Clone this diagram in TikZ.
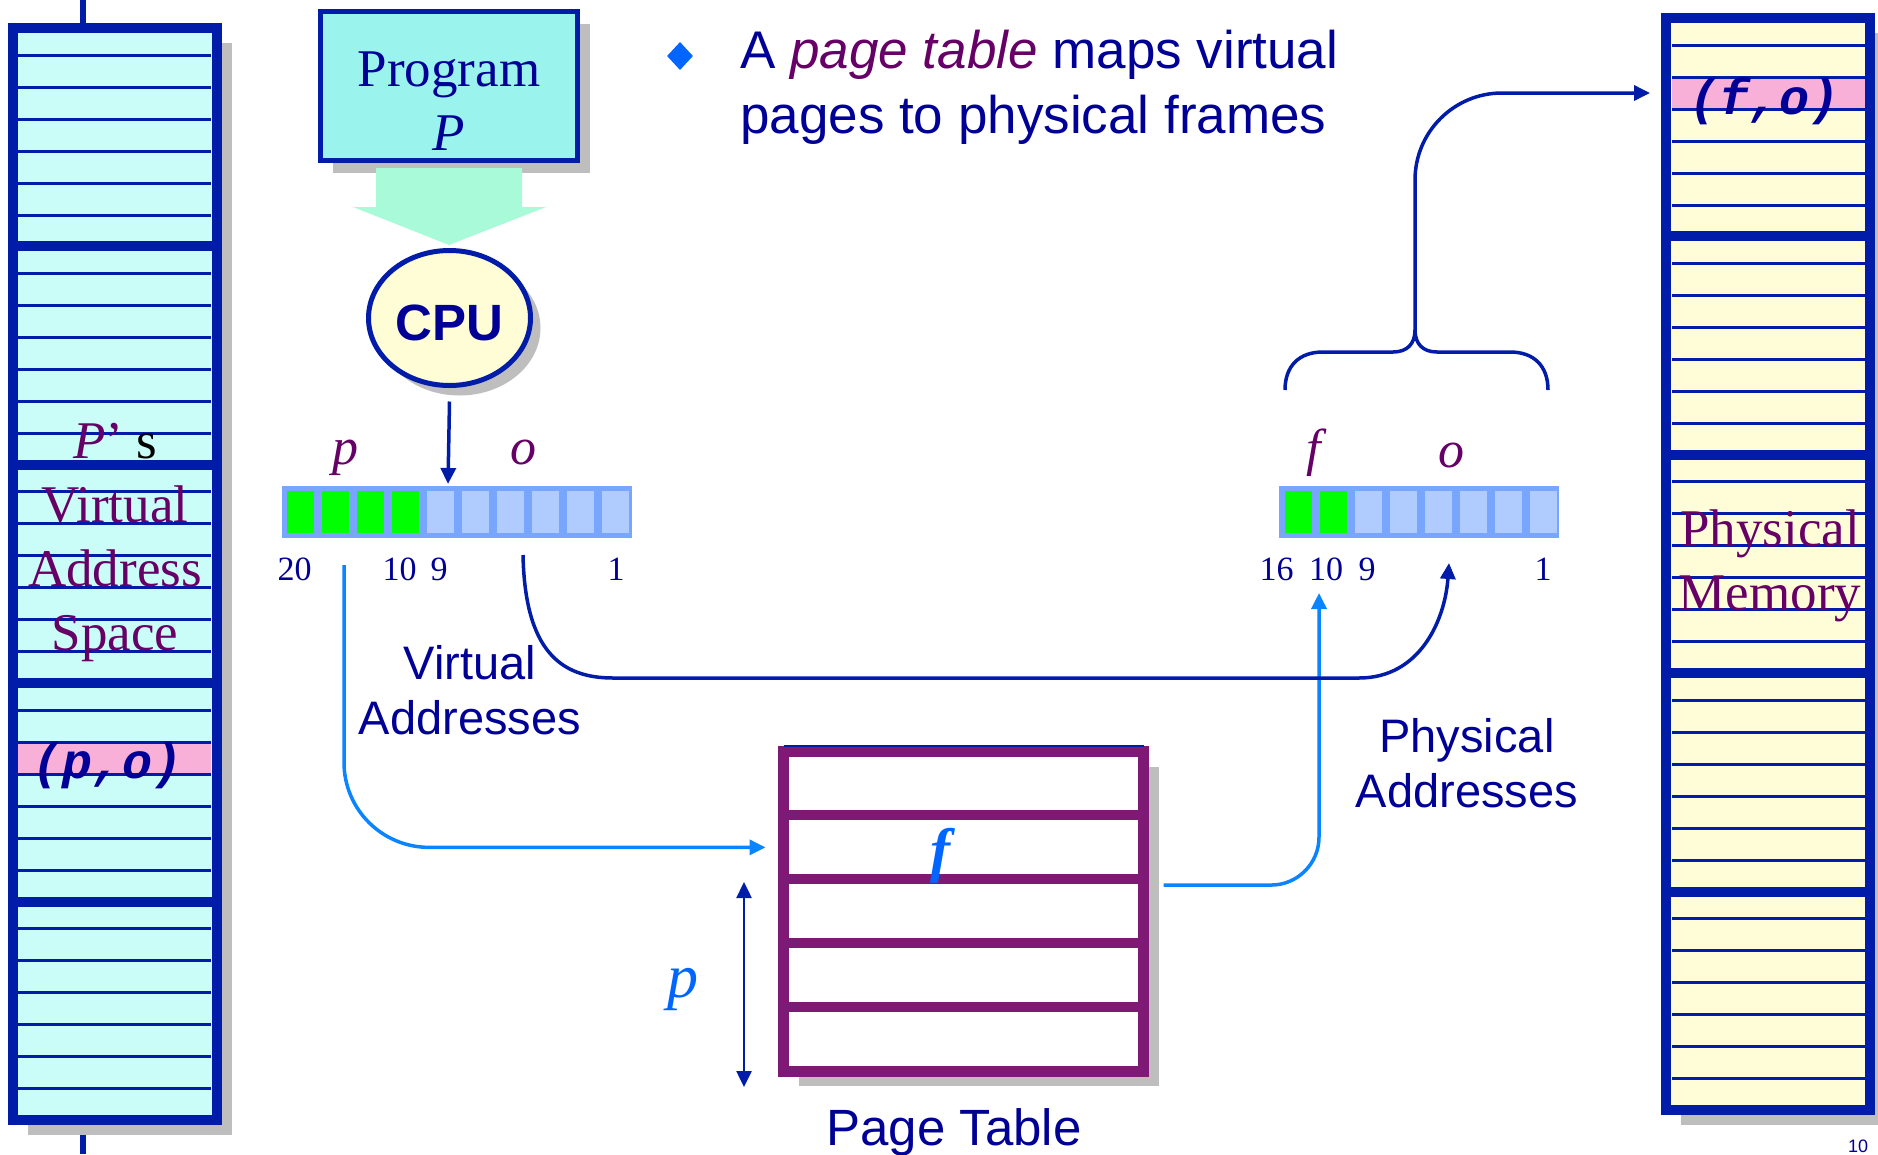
\documentclass[tikz,border=0pt]{standalone}
\usepackage{fontspec}
\setmainfont{Liberation Serif}
\setsansfont{Liberation Sans}
\setmonofont{Liberation Mono}
\usepackage{xcolor}
\usetikzlibrary{arrows.meta,calc,positioning,shapes.geometric,shadows}
\definecolor{navy}{RGB}{0,28,168}
\definecolor{textblue}{RGB}{0,0,150}
\definecolor{plum}{RGB}{102,0,102}
\definecolor{ptpurple}{RGB}{126,26,118}
\definecolor{vasfill}{RGB}{202,252,248}
\definecolor{pmfill}{RGB}{255,253,216}
\definecolor{rowpink}{RGB}{248,176,216}
\definecolor{progfill}{RGB}{155,243,238}
\definecolor{mint}{RGB}{168,250,216}
\definecolor{cpufill}{RGB}{255,253,214}
\definecolor{barblue}{RGB}{120,166,255}
\definecolor{bitlight}{RGB}{176,204,255}
\definecolor{bitgreen}{RGB}{0,255,0}
\definecolor{skyline}{RGB}{10,132,255}
\definecolor{brightblue}{RGB}{0,102,255}
\definecolor{shadowgray}{RGB}{190,190,190}
\newcommand{\pxfont}[2]{\fontsize{#1}{#2}\selectfont}

\begin{document}
\begin{tikzpicture}[x=1pt,y=-1pt,>={Triangle[length=16pt,width=15pt]},
  greyshadow/.style={general shadow={fill=shadowgray,shadow xshift=#1,shadow yshift=-#1}},
  memcol/.style={draw=navy,line width=10pt,inner sep=0pt,outer sep=0pt,minimum width=203.5pt,minimum height=1092pt,greyshadow=15pt},
  rowline/.style={navy,line width=3pt},
  secline/.style={navy,line width=10pt},
  serifbig/.style={font=\pxfont{53}{64},text=plum,align=center,inner sep=0pt},
  sansbig/.style={font=\sffamily\pxfont{47}{55},text=textblue,align=center,inner sep=0pt},
  bitcell/.style={fill=bitlight,minimum width=27pt,minimum height=42pt,inner sep=0pt,outer sep=0pt},
  pbit/.style={bitcell,fill=bitgreen},
  bitbar/.style={fill=barblue,minimum height=52pt,inner sep=0pt,outer sep=0pt},
  bitnum/.style={font=\pxfont{34}{40},text=textblue,inner sep=0pt,anchor=base},
  fieldlbl/.style={font=\itshape\pxfont{52}{60},text=plum,inner sep=0pt,anchor=base},
  monolbl/.style={font=\ttfamily\bfseries\itshape\pxfont{50}{54},text=textblue,inner sep=0pt,anchor=base},
  navyarrow/.style={->,navy,line width=3.5pt},
  skyarrow/.style={->,skyline,line width=3.5pt}]
\useasboundingbox (0,0) rectangle (1878,1154);

% virtual address space of P
\draw[navy,line width=6pt] (83,0) -- (83,1154);
\node[memcol,fill=vasfill] (vas) at (114.75,574) {};
\fill[rowpink] (18,742) rectangle (211,774);
\foreach \s in {0,...,4}{
  \foreach \j in {1,...,6}
    \draw[rowline] (18,{28+218.4*\s+32*\j-5}) -- (211,{28+218.4*\s+32*\j-5});
}
\foreach \s in {1,...,4}
  \draw[secline] (13,{28+218.4*\s}) -- (216.5,{28+218.4*\s});
\node[serifbig] (vastext) at (115,542.5) {\textit{P}' {\color{black}s}\\Virtual\\Address\\Space};
\node[monolbl] (po) at (108,778) {(p,o)};

% physical memory
\node[memcol,fill=pmfill] (pm) at (1768,563.5) {};
\fill[rowpink] (1671.5,77) rectangle (1864.5,109);
\foreach \s in {0,...,4}{
  \foreach \j in {1,...,6}
    \draw[rowline] (1671.5,{18+218.4*\s+32*\j-5}) -- (1864.5,{18+218.4*\s+32*\j-5});
}
\foreach \s in {1,...,4}
  \draw[secline] (1666.5,{18+218.4*\s}) -- (1869.5,{18+218.4*\s});
\node[serifbig] (pmtext) at (1770,566) {Physical\\Memory};
\node[monolbl] (fo) at (1764,114) {(f,o)};

% program and CPU
\node[draw=navy,line width=5pt,fill=progfill,minimum width=257pt,minimum height=149pt,outer sep=0pt,greyshadow=12pt] (prog) at (449,86) {};
\node[serifbig,text=textblue] (progtext) at (449,101) {Program\\\textit{P}};
\fill[mint,shift={(prog.south)}] (-73,7.5) -- (73,7.5) -- (73,46.5) -- (97,46.5) -- (0,84.5) -- (-96,46.5) -- (-73,46.5) -- cycle;
\node[ellipse,draw=navy,line width=5pt,fill=cpufill,minimum width=162pt,minimum height=135pt,inner sep=0pt,outer sep=0pt,greyshadow=10pt,font=\sffamily\bfseries\pxfont{51}{60},text=textblue,text height=46pt] (cpu) at (449.5,318) {CPU};

% virtual address bits
\node[bitbar,minimum width=350pt] (vbar) at (457,511.5) {};
\foreach \i in {1,...,10}{
  \ifnum\i<5 \node[pbit] (v\i) at ({265.5+35*\i},511.5) {};
  \else \node[bitcell] (v\i) at ({265.5+35*\i},511.5) {}; \fi
}
\node[fieldlbl] (vp) at (345.5,464) {p};
\node[fieldlbl] (vo) at (523.5,464) {o};
\node[bitnum] (v20) at (294.5,580) {20};
\node[bitnum] (v10) at (399.5,580) {10};
\node[bitnum] (v9) at (439,580) {9};
\node[bitnum] (v1n) at (616,580) {1};
\coordinate (vin) at (448,484);
\draw[navyarrow] ([yshift=-16pt]cpu.south) -- (vin);
\node[sansbig] (vaddr) at (470,690.5) {Virtual\\Addresses};

% physical address bits
\node[bitbar,minimum width=280pt] (pbar) at (1419,511.5) {};
\foreach \i in {1,...,8}{
  \ifnum\i<3 \node[pbit] (ph\i) at ({1263+35*\i},511.5) {};
  \else \node[bitcell] (ph\i) at ({1263+35*\i},511.5) {}; \fi
}
\node[fieldlbl] (pf) at (1314,465) {f};
\node[fieldlbl] (pho) at (1451,467) {o};
\node[bitnum] (p16) at (1276.5,580) {16};
\node[bitnum] (p10) at (1326,580) {10};
\node[bitnum] (p9) at (1367,580) {9};
\node[bitnum] (p1n) at (1543,580) {1};
\node[sansbig] (paddr) at (1467,763) {Physical\\Addresses};

% page table
\node[draw=ptpurple,line width=11pt,fill=white,minimum width=360pt,minimum height=319.5pt,inner sep=0pt,outer sep=0pt,greyshadow=15pt] (pt) at (963.5,911.25) {};
\foreach \k in {1,...,4}
  \draw[ptpurple,line width=10pt] ($(pt.north west)!\k/5!(pt.south west)$) -- ($(pt.north east)!\k/5!(pt.south east)$);
\draw[navy,line width=2pt] ([yshift=6pt]pt.north west) -- ([yshift=6pt]pt.north east);
\node[font=\bfseries\itshape\pxfont{60}{60},text=brightblue,inner sep=0pt,anchor=base] (fent) at (940,870) {f};
\node[font=\sffamily\pxfont{51}{60},text=textblue,inner sep=0pt,anchor=base] (pttitle) at (954,1145) {Page Table};
\coordinate (ptop) at (744,882);
\coordinate (pbot) at (744,1087);
\draw[<->,navy,line width=2.5pt] (ptop) -- (pbot);
\node[font=\itshape\pxfont{62}{62},text=brightblue,inner sep=0pt,anchor=base] (pidx) at (683,997) {p};

% connectors
\coordinate (pout) at (344,565);
\draw[skyarrow,rounded corners=85pt,shorten >=18pt] (pout) |- ($(pt.north west)!0.3!(pt.south west)$);
\coordinate (ptout) at ($(pt.north east)!0.418!(pt.south east)+(20,0)$);
\coordinate (fin) at (1319,593);
\draw[skyarrow,rounded corners=48pt] (ptout) -| (fin);
\coordinate (oout) at (523,555);
\coordinate (oin) at (1449,563);
\draw[navyarrow] (oout) .. controls (525,650) and (560,678) .. (613,678) -- (1359,678) .. controls (1420,678) and (1445,620) .. (oin);
\draw[navy,line width=3.5pt] (1285,390) .. controls (1285,366) and (1299,352) .. (1323,352) -- (1393,352) .. controls (1407,352) and (1415,344) .. (1415,330) .. controls (1415,344) and (1423,352) .. (1437,352) -- (1510,352) .. controls (1534,352) and (1548,366) .. (1548,390);
\coordinate (bracetip) at (1415,330);
\coordinate (foin) at (1650,93);
\draw[navyarrow,rounded corners=87pt] (bracetip) |- (foin);

% bullet text
\node[diamond,fill=brightblue,minimum width=26pt,minimum height=28pt,inner sep=0pt] (dot) at (680,56) {};
\node[font=\sffamily\pxfont{53}{65},text=textblue,align=left,inner sep=0pt,anchor=west] (bullet) at (740,87.5) {A \textit{\color{plum}page table} maps virtual\\pages to physical frames};
\node[font=\sffamily\pxfont{18}{18},text=textblue,inner sep=0pt,anchor=south] (pgno) at (1858,1153) {10};
\end{tikzpicture}
\end{document}
